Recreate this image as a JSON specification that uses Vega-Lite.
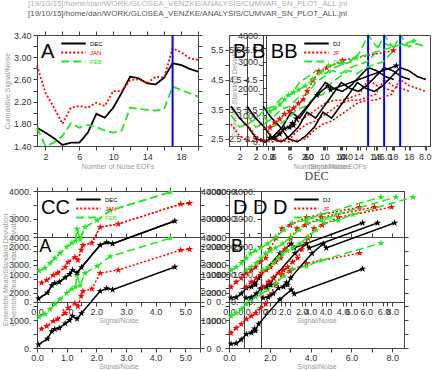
{
"$schema": "https://vega.github.io/schema/vega-lite/v6.json",
"padding": {"left": 0, "top": 0, "right": 0, "bottom": 0},
"background": "white",
"title": {"text": "[19/10/15]/home/dan/WORK/GLOSEA_VENZKE/ANALYSIS/CUMVAR_SN_PLOT_ALL.jnl", "subtitle": "[19/10/15]/home/dan/WORK/GLOSEA_VENZKE/ANALYSIS/CUMVAR_SN_PLOT_ALL.jnl", "anchor": "start", "frame": "group", "fontSize": 8, "subtitleFontSize": 8, "font": "Liberation Sans", "subtitleFont": "Liberation Sans", "fontWeight": "normal", "color": "#b0b0b0", "subtitleColor": "#555555", "subtitlePadding": 2, "offset": 12, "dx": -9},
"datasets": {
"a": [
{"n":1,"v":1.73,"s":"DEC"},{"n":2,"v":1.64,"s":"DEC"},{"n":3,"v":1.54,"s":"DEC"},{"n":4,"v":1.42,"s":"DEC"},{"n":5,"v":1.46,"s":"DEC"},{"n":6,"v":1.46,"s":"DEC"},{"n":7,"v":1.64,"s":"DEC"},{"n":8,"v":1.98,"s":"DEC"},{"n":9,"v":1.91,"s":"DEC"},{"n":10,"v":2.09,"s":"DEC"},{"n":11,"v":2.36,"s":"DEC"},{"n":12,"v":2.65,"s":"DEC"},{"n":13,"v":2.62,"s":"DEC"},{"n":14,"v":2.53,"s":"DEC"},{"n":15,"v":2.51,"s":"DEC"},{"n":16,"v":2.63,"s":"DEC"},{"n":17,"v":2.89,"s":"DEC"},{"n":18,"v":2.86,"s":"DEC"},{"n":19,"v":2.79,"s":"DEC"},{"n":20,"v":2.74,"s":"DEC"},
{"n":1,"v":2.85,"s":"JAN"},{"n":2,"v":2.36,"s":"JAN"},{"n":3,"v":2.09,"s":"JAN"},{"n":4,"v":1.80,"s":"JAN"},{"n":5,"v":2.09,"s":"JAN"},{"n":6,"v":2.12,"s":"JAN"},{"n":7,"v":2.09,"s":"JAN"},{"n":8,"v":2.18,"s":"JAN"},{"n":9,"v":2.12,"s":"JAN"},{"n":10,"v":2.39,"s":"JAN"},{"n":11,"v":2.39,"s":"JAN"},{"n":12,"v":2.59,"s":"JAN"},{"n":13,"v":2.60,"s":"JAN"},{"n":14,"v":2.53,"s":"JAN"},{"n":15,"v":2.65,"s":"JAN"},{"n":16,"v":2.63,"s":"JAN"},{"n":17,"v":3.16,"s":"JAN"},{"n":18,"v":3.09,"s":"JAN"},{"n":19,"v":2.98,"s":"JAN"},{"n":20,"v":2.95,"s":"JAN"},
{"n":1,"v":1.73,"s":"FEB"},{"n":2,"v":1.40,"s":"FEB"},{"n":3,"v":1.46,"s":"FEB"},{"n":4,"v":1.58,"s":"FEB"},{"n":5,"v":1.81,"s":"FEB"},{"n":6,"v":1.73,"s":"FEB"},{"n":7,"v":1.78,"s":"FEB"},{"n":8,"v":1.74,"s":"FEB"},{"n":9,"v":1.68,"s":"FEB"},{"n":10,"v":1.64,"s":"FEB"},{"n":11,"v":1.68,"s":"FEB"},{"n":12,"v":2.09,"s":"FEB"},{"n":13,"v":2.07,"s":"FEB"},{"n":14,"v":2.05,"s":"FEB"},{"n":15,"v":2.04,"s":"FEB"},{"n":16,"v":2.06,"s":"FEB"},{"n":17,"v":2.47,"s":"FEB"},{"n":18,"v":2.41,"s":"FEB"},{"n":19,"v":2.35,"s":"FEB"},{"n":20,"v":2.29,"s":"FEB"}
],
"b": [
{"n":1,"v":3.6,"s":"DJ"},{"n":2,"v":3.2,"s":"DJ"},{"n":3,"v":2.9,"s":"DJ"},{"n":4,"v":2.5,"s":"DJ"},{"n":5,"v":2.4,"s":"DJ"},{"n":6,"v":2.6,"s":"DJ"},{"n":7,"v":2.9,"s":"DJ"},{"n":8,"v":3.4,"s":"DJ"},{"n":9,"v":3.2,"s":"DJ"},{"n":10,"v":3.6,"s":"DJ"},{"n":11,"v":4.0,"s":"DJ"},{"n":12,"v":4.4,"s":"DJ"},{"n":13,"v":4.2,"s":"DJ"},{"n":14,"v":4.1,"s":"DJ"},{"n":15,"v":4.3,"s":"DJ"},{"n":16,"v":4.6,"s":"DJ"},{"n":17,"v":4.9,"s":"DJ"},{"n":18,"v":4.8,"s":"DJ"},{"n":19,"v":4.6,"s":"DJ"},{"n":20,"v":4.5,"s":"DJ"},
{"n":1,"v":3.0,"s":"JF"},{"n":2,"v":2.6,"s":"JF"},{"n":3,"v":2.45,"s":"JF"},{"n":4,"v":2.4,"s":"JF"},{"n":5,"v":2.45,"s":"JF"},{"n":6,"v":2.5,"s":"JF"},{"n":7,"v":2.8,"s":"JF"},{"n":8,"v":3.0,"s":"JF"},{"n":9,"v":3.1,"s":"JF"},{"n":10,"v":3.3,"s":"JF"},{"n":11,"v":3.5,"s":"JF"},{"n":12,"v":3.7,"s":"JF"},{"n":13,"v":3.8,"s":"JF"},{"n":14,"v":3.8,"s":"JF"},{"n":15,"v":3.9,"s":"JF"},{"n":16,"v":4.0,"s":"JF"},{"n":17,"v":4.5,"s":"JF"},{"n":18,"v":4.3,"s":"JF"},{"n":19,"v":4.2,"s":"JF"},{"n":20,"v":4.1,"s":"JF"},
{"n":1,"v":3.3,"s":"DJF"},{"n":2,"v":2.9,"s":"DJF"},{"n":3,"v":3.0,"s":"DJF"},{"n":4,"v":3.2,"s":"DJF"},{"n":5,"v":3.5,"s":"DJF"},{"n":6,"v":3.6,"s":"DJF"},{"n":7,"v":3.9,"s":"DJF"},{"n":8,"v":4.0,"s":"DJF"},{"n":9,"v":4.4,"s":"DJF"},{"n":10,"v":4.6,"s":"DJF"},{"n":11,"v":4.8,"s":"DJF"},{"n":12,"v":4.7,"s":"DJF"},{"n":13,"v":4.9,"s":"DJF"},{"n":14,"v":5.0,"s":"DJF"},{"n":15,"v":5.1,"s":"DJF"},{"n":16,"v":5.4,"s":"DJF"},{"n":17,"v":6.0,"s":"DJF"},{"n":18,"v":5.6,"s":"DJF"},{"n":19,"v":5.7,"s":"DJF"},{"n":20,"v":5.6,"s":"DJF"}
],
"c": [
{"sn":0.05,"m":120,"s":"DEC"},{"sn":0.35,"m":330,"s":"DEC"},{"sn":0.5,"m":600,"s":"DEC"},{"sn":0.6,"m":680,"s":"DEC"},{"sn":0.75,"m":720,"s":"DEC"},{"sn":0.95,"m":880,"s":"DEC"},{"sn":1.1,"m":1000,"s":"DEC"},{"sn":1.2,"m":1150,"s":"DEC"},{"sn":1.35,"m":1050,"s":"DEC"},{"sn":1.5,"m":1250,"s":"DEC"},{"sn":2.13,"m":2050,"s":"DEC"},{"sn":2.35,"m":2150,"s":"DEC"},{"sn":2.55,"m":2100,"s":"DEC"},{"sn":4.65,"m":2920,"s":"DEC"},
{"sn":0.15,"m":690,"s":"JAN"},{"sn":0.33,"m":790,"s":"JAN"},{"sn":0.55,"m":970,"s":"JAN"},{"sn":0.7,"m":1045,"s":"JAN"},{"sn":0.95,"m":1260,"s":"JAN"},{"sn":1.05,"m":1440,"s":"JAN"},{"sn":1.28,"m":1620,"s":"JAN"},{"sn":1.38,"m":1500,"s":"JAN"},{"sn":1.49,"m":1875,"s":"JAN"},{"sn":1.55,"m":2050,"s":"JAN"},{"sn":1.85,"m":2130,"s":"JAN"},{"sn":2.13,"m":2700,"s":"JAN"},{"sn":2.74,"m":2810,"s":"JAN"},{"sn":4.85,"m":3530,"s":"JAN"},{"sn":5.15,"m":3560,"s":"JAN"},
{"sn":0.07,"m":1120,"s":"FEB"},{"sn":0.27,"m":1225,"s":"FEB"},{"sn":0.44,"m":1400,"s":"FEB"},{"sn":0.61,"m":1585,"s":"FEB"},{"sn":0.78,"m":1765,"s":"FEB"},{"sn":1.0,"m":1980,"s":"FEB"},{"sn":1.18,"m":2130,"s":"FEB"},{"sn":1.3,"m":2200,"s":"FEB"},{"sn":1.35,"m":2630,"s":"FEB"},{"sn":1.45,"m":2250,"s":"FEB"},{"sn":1.62,"m":2700,"s":"FEB"},{"sn":2.03,"m":2950,"s":"FEB"},{"sn":2.47,"m":3300,"s":"FEB"},{"sn":4.5,"m":3960,"s":"FEB"}
],
"d": [
{"sn":0.1,"m":150,"s":"DJ"},{"sn":0.35,"m":170,"s":"DJ"},{"sn":0.6,"m":300,"s":"DJ"},{"sn":0.85,"m":500,"s":"DJ"},{"sn":1.1,"m":550,"s":"DJ"},{"sn":1.25,"m":700,"s":"DJ"},{"sn":1.3,"m":620,"s":"DJ"},{"sn":1.45,"m":870,"s":"DJ"},{"sn":2.5,"m":1750,"s":"DJ"},{"sn":3.05,"m":2100,"s":"DJ"},{"sn":3.2,"m":1950,"s":"DJ"},{"sn":6.55,"m":2850,"s":"DJ"},
{"sn":0.1,"m":540,"s":"JF"},{"sn":0.35,"m":720,"s":"JF"},{"sn":0.6,"m":860,"s":"JF"},{"sn":0.85,"m":1045,"s":"JF"},{"sn":1.1,"m":1150,"s":"JF"},{"sn":1.3,"m":1260,"s":"JF"},{"sn":1.55,"m":1440,"s":"JF"},{"sn":1.8,"m":1585,"s":"JF"},{"sn":2.0,"m":1900,"s":"JF"},{"sn":2.3,"m":2300,"s":"JF"},{"sn":2.6,"m":2650,"s":"JF"},{"sn":3.0,"m":2770,"s":"JF"},{"sn":3.8,"m":3050,"s":"JF"},{"sn":6.4,"m":3420,"s":"JF"},
{"sn":0.1,"m":1150,"s":"DJF"},{"sn":0.35,"m":1260,"s":"DJF"},{"sn":0.6,"m":1400,"s":"DJF"},{"sn":0.85,"m":1585,"s":"DJF"},{"sn":1.05,"m":1750,"s":"DJF"},{"sn":1.3,"m":1850,"s":"DJF"},{"sn":1.55,"m":1950,"s":"DJF"},{"sn":1.9,"m":2100,"s":"DJF"},{"sn":2.3,"m":2350,"s":"DJF"},{"sn":2.7,"m":2600,"s":"DJF"},{"sn":3.1,"m":2850,"s":"DJF"},{"sn":3.8,"m":2950,"s":"DJF"},{"sn":4.5,"m":3150,"s":"DJF"},{"sn":7.45,"m":3780,"s":"DJF"}
]
},
"config": {
"font": "Liberation Sans",
"view": {"stroke": "#444444", "strokeWidth": 1},
"axis": {"grid": false, "domainColor": "#444444", "tickColor": "#444444", "labelColor": "#333333", "labelFont": "Liberation Sans", "labelFontSize": 9, "titleFont": "Liberation Sans", "titleFontSize": 7, "titleColor": "#9a9a9a", "titleFontWeight": "normal", "tickSize": 4, "labelPadding": 2, "labelOverlap": false, "labelFlush": false, "labelBound": false, "domainWidth": 1, "titlePadding": 0},
"legend": {"orient": "top-left", "offset": 4, "padding": 0, "titleOrient": "left", "titleFontSize": 20, "titleFont": "Liberation Sans", "titleFontWeight": "normal", "titleColor": "#000000", "titlePadding": 14, "titleLimit": 200, "labelFontSize": 6, "labelFont": "Liberation Sans", "labelOffset": 12, "symbolType": "M-3.5,0H3.5", "symbolSize": 49, "symbolStrokeWidth": 2, "rowPadding": 0}
},
"columns": 2,
"spacing": {"row": 45, "column": 29},
"bounds": "flush",
"resolve": {"scale": {"color": "independent", "strokeDash": "independent"}},
"concat": [
{
"width": 161, "height": 111,
"layer": [
{
"data": {"name": "a"},
"mark": {"type": "line", "strokeWidth": 1.8},
"encoding": {
"x": {"field": "n", "type": "quantitative", "scale": {"domain": [1, 20], "nice": false, "zero": false}, "axis": {"orient": "bottom", "values": [2,4,6,8,10,12,14,16,18,20], "labelExpr": "datum.value % 4 == 2 ? datum.label : ''", "title": "Number of Noise EOFs", "titlePadding": 1}},
"y": {"field": "v", "type": "quantitative", "scale": {"domain": [1.4, 3.4], "nice": false, "zero": false}, "axis": {"orient": "left", "values": [1.4,1.6,1.8,2.0,2.2,2.4,2.6,2.8,3.0,3.2,3.4], "format": ".2f", "labelExpr": "round(datum.value*10) % 4 == 2 ? datum.label : ''", "title": "Cumulative Signal/Noise", "titlePadding": 3}},
"color": {"field": "s", "type": "nominal", "scale": {"domain": ["DEC","JAN","FEB"], "range": ["#000000","#ff0000","#22e622"]}, "legend": {"title": "A", "encode": {"labels": {"update": {"fill": {"signal": "datum.value === 'DEC' ? '#000000' : datum.value === 'JAN' ? '#ff0000' : '#22e622'"}}}}}},
"strokeDash": {"field": "s", "type": "nominal", "scale": {"domain": ["DEC","JAN","FEB"], "range": [[1,0],[2,2],[8,4]]}, "legend": {"title": "A", "encode": {"labels": {"update": {"fill": {"signal": "datum.value === 'DEC' ? '#000000' : datum.value === 'JAN' ? '#ff0000' : '#22e622'"}}}}}}
}
},
{
"data": {"values": [{"n": 17, "lo": 1.4, "hi": 3.4}]},
"mark": {"type": "rule", "color": "#0000ff", "strokeWidth": 2},
"encoding": {
"x": {"field": "n", "type": "quantitative", "axis": {"orient": "top", "values": [2,4,6,8,10,12,14,16,18,20], "labels": false, "title": null}},
"y": {"field": "lo", "type": "quantitative", "axis": {"orient": "right", "values": [1.4,1.6,1.8,2.0,2.2,2.4,2.6,2.8,3.0,3.2,3.4], "labels": false, "title": null}},
"y2": {"field": "hi"}
}
}
],
"resolve": {"axis": {"x": "independent", "y": "independent"}}
},
{
"width": 201, "height": 111,
"layer": [
{
"layer": [
{
"data": {"name": "b"},
"mark": {"type": "line", "strokeWidth": 1.6},
"encoding": {
"x": {"field": "n", "type": "quantitative", "scale": {"domain": [0.767, 24.22], "nice": false, "zero": false}, "axis": {"orient": "bottom", "values": [2,4,6,8,10,12,14,16,18,20], "labelExpr": "datum.value % 4 == 2 ? datum.label : ''", "title": "Number of Noise EOFs", "titlePadding": 1}},
"y": {"field": "v", "type": "quantitative", "scale": {"domain": [2.26, 6.0], "nice": false, "zero": false}, "axis": {"orient": "left", "values": [2.5,3.0,3.5,4.0,4.5,5.0,5.5], "format": ".1f", "labelExpr": "round(datum.value*10) % 10 == 5 ? datum.label : ''", "title": null}},
"color": {"field": "s", "type": "nominal", "scale": {"domain": ["DJ","JF","DJF"], "range": ["#000000","#ff0000","#22e622"]}, "legend": {"title": "B B BB", "encode": {"labels": {"update": {"fill": {"signal": "datum.value === 'DJ' ? '#000000' : datum.value === 'JF' ? '#ff0000' : '#22e622'"}}}}}},
"strokeDash": {"field": "s", "type": "nominal", "scale": {"domain": ["DJ","JF","DJF"], "range": [[1,0],[2,2],[8,4]]}, "legend": {"title": "B B BB", "encode": {"labels": {"update": {"fill": {"signal": "datum.value === 'DJ' ? '#000000' : datum.value === 'JF' ? '#ff0000' : '#22e622'"}}}}}}
}
},
{
"data": {"values": [{"n": 17, "lo": 2.26, "hi": 6.0}]},
"mark": {"type": "rule", "color": "#0000ff", "strokeWidth": 2},
"encoding": {
"x": {"field": "n", "type": "quantitative", "axis": {"orient": "bottom", "values": [2,4,6,8,10,12,14,16,18,20], "labelExpr": "datum.value % 4 == 2 ? datum.label : ''", "title": "Number of Noise EOFs", "titlePadding": 1}},
"y": {"field": "lo", "type": "quantitative", "axis": {"orient": "left", "values": [2.5,3.0,3.5,4.0,4.5,5.0,5.5], "format": ".1f", "labelExpr": "round(datum.value*10) % 10 == 5 ? datum.label : ''", "title": null}},
"y2": {"field": "hi"}
}
}
]
},
{
"layer": [
{
"data": {"name": "b"},
"mark": {"type": "line", "strokeWidth": 1.6},
"encoding": {
"x": {"field": "n", "type": "quantitative", "scale": {"domain": [-1.10, 22.35], "nice": false, "zero": false}, "axis": {"orient": "bottom", "values": [2,4,6,8,10,12,14,16,18,20], "labelExpr": "datum.value % 4 == 2 ? datum.label : ''", "title": null}},
"y": {"field": "v", "type": "quantitative", "scale": {"domain": [2.26, 6.0], "nice": false, "zero": false}, "axis": {"orient": "left", "offset": -18, "values": [2.5,3.0,3.5,4.0,4.5,5.0,5.5], "format": ".1f", "labelExpr": "round(datum.value*10) % 10 == 5 ? datum.label : ''", "title": null}},
"color": {"field": "s", "type": "nominal", "scale": {"domain": ["DJ","JF","DJF"], "range": ["#000000","#ff0000","#22e622"]}},
"strokeDash": {"field": "s", "type": "nominal", "scale": {"domain": ["DJ","JF","DJF"], "range": [[1,0],[2,2],[8,4]]}}
}
},
{
"data": {"values": [{"n": 17, "lo": 2.26, "hi": 6.0}]},
"mark": {"type": "rule", "color": "#0000ff", "strokeWidth": 2},
"encoding": {
"x": {"field": "n", "type": "quantitative", "axis": {"orient": "bottom", "values": [2,4,6,8,10,12,14,16,18,20], "labelExpr": "datum.value % 4 == 2 ? datum.label : ''", "title": null}},
"y": {"field": "lo", "type": "quantitative", "axis": {"orient": "left", "offset": -18, "values": [2.5,3.0,3.5,4.0,4.5,5.0,5.5], "format": ".1f", "labelExpr": "round(datum.value*10) % 10 == 5 ? datum.label : ''", "title": null}},
"y2": {"field": "hi"}
}
}
]
},
{
"layer": [
{
"data": {"name": "b"},
"mark": {"type": "line", "strokeWidth": 1.6},
"encoding": {
"x": {"field": "n", "type": "quantitative", "scale": {"domain": [-2.97, 20.48], "nice": false, "zero": false}, "axis": {"orient": "bottom", "values": [2,4,6,8,10,12,14,16,18,20], "labelExpr": "datum.value % 4 == 2 ? datum.label : ''", "title": null}},
"y": {"field": "v", "type": "quantitative", "scale": {"domain": [2.26, 6.0], "nice": false, "zero": false}, "axis": {"orient": "left", "offset": -34, "values": [2.5,3.0,3.5,4.0,4.5,5.0,5.5], "format": ".1f", "labelExpr": "round(datum.value*10) % 10 == 5 ? datum.label : ''", "title": null}},
"color": {"field": "s", "type": "nominal", "scale": {"domain": ["DJ","JF","DJF"], "range": ["#000000","#ff0000","#22e622"]}},
"strokeDash": {"field": "s", "type": "nominal", "scale": {"domain": ["DJ","JF","DJF"], "range": [[1,0],[2,2],[8,4]]}}
}
},
{
"data": {"values": [{"n": 17, "lo": 2.26, "hi": 6.0}]},
"mark": {"type": "rule", "color": "#0000ff", "strokeWidth": 2},
"encoding": {
"x": {"field": "n", "type": "quantitative", "axis": {"orient": "bottom", "values": [2,4,6,8,10,12,14,16,18,20], "labelExpr": "datum.value % 4 == 2 ? datum.label : ''", "title": null}},
"y": {"field": "lo", "type": "quantitative", "axis": {"orient": "left", "offset": -34, "values": [2.5,3.0,3.5,4.0,4.5,5.0,5.5], "format": ".1f", "labelExpr": "round(datum.value*10) % 10 == 5 ? datum.label : ''", "title": null}},
"y2": {"field": "hi"}
}
}
]
},
{
"data": {"name": "d"},
"mark": {"type": "line", "strokeWidth": 1.5, "point": {"shape": "M0,-1L0.225,-0.309L0.951,-0.309L0.363,0.118L0.588,0.809L0,0.382L-0.588,0.809L-0.363,0.118L-0.951,-0.309L-0.225,-0.309Z", "filled": true, "size": 55}},
"encoding": {
"x": {"field": "sn", "type": "quantitative", "scale": {"domain": [-1.99, 8.27], "nice": false, "zero": false}, "axis": {"orient": "bottom", "values": [0,1,2,3,4,5,6,7,8], "format": ".1f", "labelExpr": "datum.value % 2 == 0 ? datum.label : ''", "title": "Signal/Noise", "titlePadding": 1}},
"y": {"field": "m", "type": "quantitative", "scale": {"domain": [-150, 4000], "nice": false, "zero": false}, "axis": {"orient": "left", "offset": -37, "values": [0,500,1000,1500,2000,2500,3000,3500,4000], "labelExpr": "datum.value % 1000 == 0 ? datum.value + '.' : ''", "title": "Ensemble Standard Deviation"}},
"color": {"field": "s", "type": "nominal", "scale": {"domain": ["DJ","JF","DJF"], "range": ["#000000","#ff0000","#22e622"]}},
"strokeDash": {"field": "s", "type": "nominal", "scale": {"domain": ["DJ","JF","DJF"], "range": [[1,0],[2,2],[8,4]]}}
}
}
],
"resolve": {"scale": {"x": "independent", "y": "independent"}, "axis": {"x": "independent", "y": "independent"}}
},
{
"width": 163, "height": 157,
"layer": [
{
"layer": [
{
"data": {"name": "c"},
"mark": {"type": "line", "strokeWidth": 1.5, "point": {"shape": "M0,-1L0.225,-0.309L0.951,-0.309L0.363,0.118L0.588,0.809L0,0.382L-0.588,0.809L-0.363,0.118L-0.951,-0.309L-0.225,-0.309Z", "filled": true, "size": 55}},
"encoding": {
"x": {"field": "sn", "type": "quantitative", "scale": {"domain": [0, 5.5], "nice": false, "zero": false}, "axis": {"orient": "bottom", "values": [0,0.5,1,1.5,2,2.5,3,3.5,4,4.5,5,5.5], "format": ".1f", "labelExpr": "datum.value % 1 == 0 ? datum.label : ''", "title": "Signal/Noise", "titlePadding": 0, "labelPadding": 1}},
"y": {"field": "m", "type": "quantitative", "scale": {"domain": [0, 5658], "nice": false, "zero": false}, "axis": {"orient": "left", "values": [0,500,1000,1500,2000,2500,3000,3500,4000], "labelExpr": "datum.value % 1000 == 0 ? datum.value + '.' : ''", "title": "Ensemble Mean/Standard Deviation", "titlePadding": 0}},
"color": {"field": "s", "type": "nominal", "scale": {"domain": ["DEC","JAN","FEB"], "range": ["#000000","#ff0000","#22e622"]}, "legend": {"title": "CC", "encode": {"labels": {"update": {"fill": {"signal": "datum.value === 'DEC' ? '#000000' : datum.value === 'JAN' ? '#ff0000' : '#22e622'"}}}}}},
"strokeDash": {"field": "s", "type": "nominal", "scale": {"domain": ["DEC","JAN","FEB"], "range": [[1,0],[2,2],[8,4]]}, "legend": {"title": "CC", "encode": {"labels": {"update": {"fill": {"signal": "datum.value === 'DEC' ? '#000000' : datum.value === 'JAN' ? '#ff0000' : '#22e622'"}}}}}}
}
},
{
"data": {"values": [{"sn": 0.08, "m": 3980, "t": "A"}]},
"mark": {"type": "text", "align": "left", "baseline": "top", "fontSize": 18, "font": "Liberation Sans"},
"encoding": {
"x": {"field": "sn", "type": "quantitative", "axis": {"orient": "top", "offset": -46, "values": [0,0.5,1,1.5,2,2.5,3,3.5,4,4.5,5,5.5], "labels": false, "title": null}},
"y": {"field": "m", "type": "quantitative", "axis": {"orient": "right", "values": [0,500,1000,1500,2000,2500,3000,3500,4000], "format": "d", "labelExpr": "datum.value % 1000 == 0 ? datum.label : ''", "title": null}},
"text": {"field": "t"}
}
}
],
"resolve": {"axis": {"x": "independent", "y": "independent"}}
},
{
"layer": [
{
"data": {"name": "c"},
"mark": {"type": "line", "strokeWidth": 1.5, "point": {"shape": "M0,-1L0.225,-0.309L0.951,-0.309L0.363,0.118L0.588,0.809L0,0.382L-0.588,0.809L-0.363,0.118L-0.951,-0.309L-0.225,-0.309Z", "filled": true, "size": 55}},
"encoding": {
"x": {"field": "sn", "type": "quantitative", "scale": {"domain": [0, 5.5], "nice": false, "zero": false}, "axis": {"orient": "bottom", "offset": -46, "values": [0,0.5,1,1.5,2,2.5,3,3.5,4,4.5,5,5.5], "format": ".1f", "labelExpr": "datum.value % 1 == 0 ? datum.label : ''", "title": "Signal/Noise", "titlePadding": 0, "labelPadding": 1}},
"y": {"field": "m", "type": "quantitative", "scale": {"domain": [-1658, 4000], "nice": false, "zero": false}, "axis": {"orient": "left", "values": [0,500,1000,1500,2000,2500,3000,3500,4000], "labelExpr": "datum.value % 1000 == 0 ? datum.value + '.' : ''", "title": "Ensemble Mean/Standard Deviation", "titlePadding": -8}},
"color": {"field": "s", "type": "nominal", "scale": {"domain": ["DEC","JAN","FEB"], "range": ["#000000","#ff0000","#22e622"]}},
"strokeDash": {"field": "s", "type": "nominal", "scale": {"domain": ["DEC","JAN","FEB"], "range": [[1,0],[2,2],[8,4]]}}
}
},
{
"data": {"name": "c"},
"mark": {"type": "line", "strokeWidth": 1.5},
"encoding": {
"x": {"field": "sn", "type": "quantitative", "axis": {"orient": "top", "values": [0,0.5,1,1.5,2,2.5,3,3.5,4,4.5,5,5.5], "labels": false, "title": null}},
"y": {"field": "m", "type": "quantitative", "axis": {"orient": "right", "values": [0,500,1000,1500,2000,2500,3000,3500,4000], "format": "d", "labelExpr": "datum.value % 1000 == 0 ? datum.label : ''", "title": null}},
"color": {"field": "s", "type": "nominal", "scale": {"domain": ["DEC","JAN","FEB"], "range": ["#000000","#ff0000","#22e622"]}},
"strokeDash": {"field": "s", "type": "nominal", "scale": {"domain": ["DEC","JAN","FEB"], "range": [[1,0],[2,2],[8,4]]}}
}
}
],
"resolve": {"axis": {"x": "independent", "y": "independent"}}
}
],
"resolve": {"scale": {"x": "independent", "y": "independent"}, "axis": {"x": "independent", "y": "independent"}}
},
{
"width": 175, "height": 157,
"title": {"text": "DEC", "font": "Liberation Serif", "fontSize": 12, "fontWeight": "normal", "color": "#444444", "offset": 4},
"layer": [
{
"layer": [
{
"data": {"name": "d"},
"mark": {"type": "line", "strokeWidth": 1.5, "point": {"shape": "M0,-1L0.225,-0.309L0.951,-0.309L0.363,0.118L0.588,0.809L0,0.382L-0.588,0.809L-0.363,0.118L-0.951,-0.309L-0.225,-0.309Z", "filled": true, "size": 55}},
"encoding": {
"x": {"field": "sn", "type": "quantitative", "scale": {"domain": [0, 8.58], "nice": false, "zero": false}, "axis": {"orient": "bottom", "values": [0,1,2,3,4,5,6,7,8], "format": ".1f", "labelExpr": "datum.value % 2 == 0 ? datum.label : ''", "title": "Signal/Noise", "titlePadding": 0, "labelPadding": 1}},
"y": {"field": "m", "type": "quantitative", "scale": {"domain": [0, 5658], "nice": false, "zero": false}, "axis": {"orient": "left", "values": [0,500,1000,1500,2000,2500,3000,3500,4000], "labelExpr": "datum.value % 1000 == 0 ? datum.value + '.' : ''", "title": null}},
"color": {"field": "s", "type": "nominal", "scale": {"domain": ["DJ","JF","DJF"], "range": ["#000000","#ff0000","#22e622"]}, "legend": {"title": "D D D", "encode": {"labels": {"update": {"fill": {"signal": "datum.value === 'DJ' ? '#000000' : datum.value === 'JF' ? '#ff0000' : '#22e622'"}}}}}},
"strokeDash": {"field": "s", "type": "nominal", "scale": {"domain": ["DJ","JF","DJF"], "range": [[1,0],[2,2],[8,4]]}, "legend": {"title": "D D D", "encode": {"labels": {"update": {"fill": {"signal": "datum.value === 'DJ' ? '#000000' : datum.value === 'JF' ? '#ff0000' : '#22e622'"}}}}}}
}
},
{
"data": {"values": [{"sn": 0.1, "m": 3980, "t": "B"}]},
"mark": {"type": "text", "align": "left", "baseline": "top", "fontSize": 18, "font": "Liberation Sans"},
"encoding": {
"x": {"field": "sn", "type": "quantitative", "axis": {"orient": "top", "offset": -46, "values": [0,1,2,3,4,5,6,7,8], "labels": false, "title": null}},
"y": {"field": "m", "type": "quantitative", "axis": {"orient": "right", "values": [0,500,1000,1500,2000,2500,3000,3500,4000], "labels": false, "title": null}},
"text": {"field": "t"}
}
}
],
"resolve": {"axis": {"x": "independent", "y": "independent"}}
},
{
"data": {"name": "d"},
"mark": {"type": "line", "strokeWidth": 1.5, "point": {"shape": "M0,-1L0.225,-0.309L0.951,-0.309L0.363,0.118L0.588,0.809L0,0.382L-0.588,0.809L-0.363,0.118L-0.951,-0.309L-0.225,-0.309Z", "filled": true, "size": 55}},
"encoding": {
"x": {"field": "sn", "type": "quantitative", "scale": {"domain": [0, 8.58], "nice": false, "zero": false}, "axis": {"orient": "bottom", "offset": -46, "values": [0,1,2,3,4,5,6,7,8], "format": ".1f", "labelExpr": "datum.value % 2 == 0 ? datum.label : ''", "title": "Signal/Noise", "titlePadding": 0, "labelPadding": 1}},
"y": {"field": "m", "type": "quantitative", "scale": {"domain": [-1658, 4000], "nice": false, "zero": false}, "axis": {"orient": "left", "values": [0,500,1000,1500,2000,2500,3000,3500,4000], "labelExpr": "datum.value % 1000 == 0 ? datum.value + '.' : ''", "title": null}},
"color": {"field": "s", "type": "nominal", "scale": {"domain": ["DJ","JF","DJF"], "range": ["#000000","#ff0000","#22e622"]}},
"strokeDash": {"field": "s", "type": "nominal", "scale": {"domain": ["DJ","JF","DJF"], "range": [[1,0],[2,2],[8,4]]}}
}
},
{
"data": {"name": "d"},
"mark": {"type": "line", "strokeWidth": 1.5, "point": {"shape": "M0,-1L0.225,-0.309L0.951,-0.309L0.363,0.118L0.588,0.809L0,0.382L-0.588,0.809L-0.363,0.118L-0.951,-0.309L-0.225,-0.309Z", "filled": true, "size": 55}},
"encoding": {
"x": {"field": "sn", "type": "quantitative", "scale": {"domain": [-0.735, 7.845], "nice": false, "zero": false}, "axis": {"orient": "bottom", "offset": -46, "values": [0,1,2,3,4,5,6,7,8], "format": ".1f", "labelExpr": "datum.value % 2 == 0 ? datum.label : ''", "title": null, "labelPadding": 1}},
"y": {"field": "m", "type": "quantitative", "scale": {"domain": [-1658, 4000], "nice": false, "zero": false}, "axis": {"orient": "left", "offset": -15, "values": [0,500,1000,1500,2000,2500,3000,3500,4000], "labelExpr": "datum.value % 1000 == 0 ? datum.value + '.' : ''", "title": null}},
"color": {"field": "s", "type": "nominal", "scale": {"domain": ["DJ","JF","DJF"], "range": ["#000000","#ff0000","#22e622"]}},
"strokeDash": {"field": "s", "type": "nominal", "scale": {"domain": ["DJ","JF","DJF"], "range": [[1,0],[2,2],[8,4]]}}
}
},
{
"data": {"name": "d"},
"mark": {"type": "line", "strokeWidth": 1.5, "point": {"shape": "M0,-1L0.225,-0.309L0.951,-0.309L0.363,0.118L0.588,0.809L0,0.382L-0.588,0.809L-0.363,0.118L-0.951,-0.309L-0.225,-0.309Z", "filled": true, "size": 55}},
"encoding": {
"x": {"field": "sn", "type": "quantitative", "scale": {"domain": [-1.57, 7.01], "nice": false, "zero": false}, "axis": {"orient": "bottom", "offset": -46, "values": [0,1,2,3,4,5,6,7,8], "format": ".1f", "labelExpr": "datum.value % 2 == 0 ? datum.label : ''", "title": null, "labelPadding": 1}},
"y": {"field": "m", "type": "quantitative", "scale": {"domain": [-1658, 4000], "nice": false, "zero": false}, "axis": {"orient": "left", "offset": -32, "values": [0,500,1000,1500,2000,2500,3000,3500,4000], "labelExpr": "datum.value % 1000 == 0 ? datum.value + '.' : ''", "title": null}},
"color": {"field": "s", "type": "nominal", "scale": {"domain": ["DJ","JF","DJF"], "range": ["#000000","#ff0000","#22e622"]}},
"strokeDash": {"field": "s", "type": "nominal", "scale": {"domain": ["DJ","JF","DJF"], "range": [[1,0],[2,2],[8,4]]}}
}
}
],
"resolve": {"scale": {"x": "independent", "y": "independent"}, "axis": {"x": "independent", "y": "independent"}}
}
]
}
